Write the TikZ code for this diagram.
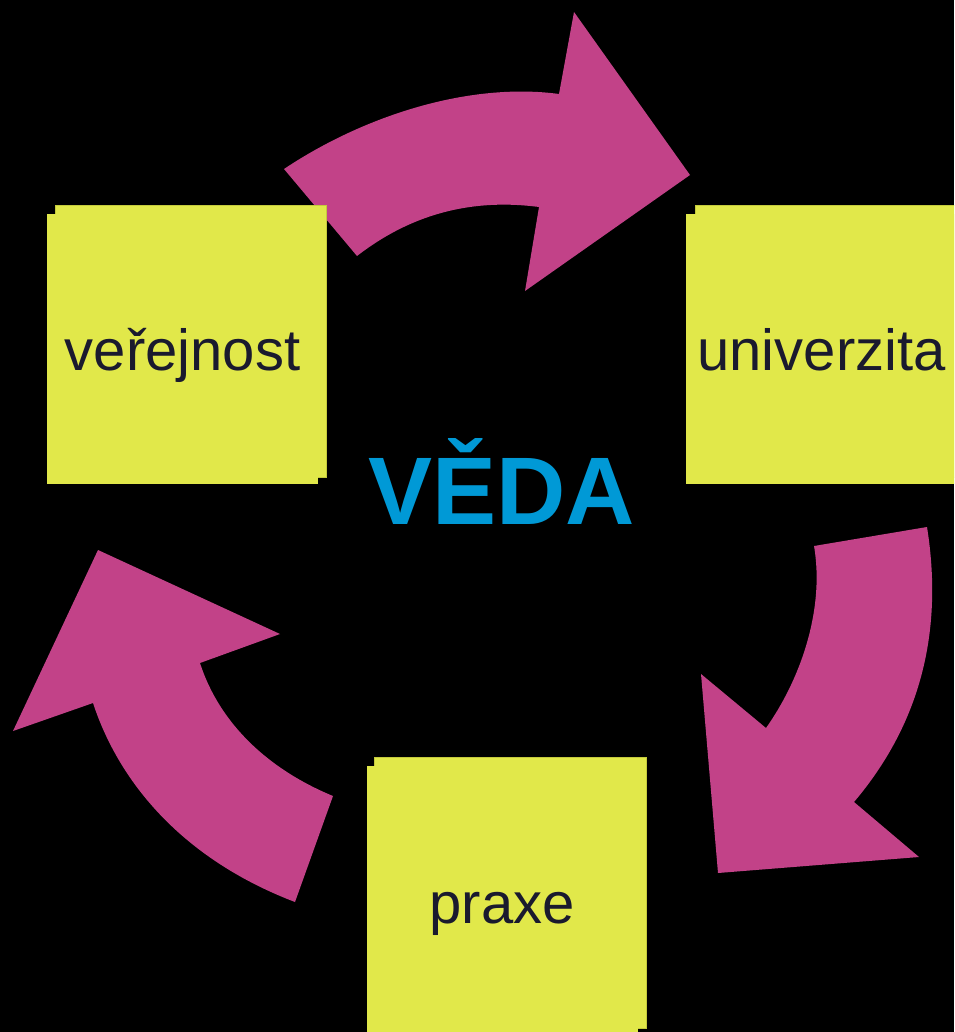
\documentclass[tikz,border=0pt]{standalone}
\usepackage{fontspec}
\setmainfont{Liberation Sans}
\definecolor{bgc}{RGB}{0,0,0}
\definecolor{notey}{RGB}{225,232,74}
\definecolor{noteedge}{RGB}{196,202,60}
\definecolor{arrowm}{RGB}{194,66,136}
\definecolor{vedablue}{RGB}{0,153,214}
\definecolor{labeltxt}{RGB}{26,26,46}
\begin{document}
\begin{tikzpicture}[x=1pt,y=-1pt,
  backnote/.style={fill=notey,draw=noteedge,line width=0.8pt},
  frontnote/.style={fill=notey,draw=none,inner sep=0pt,minimum width=271pt,minimum height=270pt},
  notelabel/.style={anchor=base,text=labeltxt,font=\fontsize{58}{69}\selectfont,inner sep=0pt},
  bigarrow/.style={fill=arrowm,draw=none}]
\useasboundingbox (0,0) rectangle (954,1032);
\clip (0,0) rectangle (954,1032);
\fill[bgc] (0,0) rectangle (954,1032);

% top arrow (verejnost -> univerzita)
\fill[bigarrow] (284,169) .. controls (365,115) and (470,82) .. (559,94)
  -- (574,12) -- (690,175) -- (525,291) -- (539,207)
  .. controls (470,198) and (410,215) .. (357,256) -- cycle;

% right arrow (univerzita -> praxe)
\fill[bigarrow] (927,527) .. controls (945,640) and (915,730) .. (854,802)
  -- (919,857) -- (718,873) -- (701,674) -- (766,728)
  .. controls (800,680) and (825,610) .. (814,546) -- cycle;

% left arrow (praxe -> verejnost)
\fill[bigarrow] (333,796) -- (295,902)
  .. controls (185,860) and (120,785) .. (93,703)
  -- (13,731) -- (98,550) -- (280,634) -- (200,663)
  .. controls (220,725) and (270,770) .. (333,796) -- cycle;

% notes
\fill[backnote] (55,205) rectangle (326,477);
\node[frontnote] (ver) at (182.5,349) {};
\node[notelabel] (verl) at (182.5,370) {veřejnost};

\fill[backnote] (695,205) rectangle (966,477);
\node[frontnote] (uni) at (821.5,349) {};
\node[notelabel] (unil) at (821.5,370) {univerzita};

\fill[backnote] (374,757) rectangle (646,1028);
\node[frontnote] (pra) at (502,901) {};
\node[notelabel] (pral) at (502,923) {praxe};

% centre
\node[anchor=base,inner sep=0pt,text=vedablue,font=\fontsize{96}{110}\selectfont\bfseries] (veda) at (501.5,524) {VĚDA};
\end{tikzpicture}
\end{document}
